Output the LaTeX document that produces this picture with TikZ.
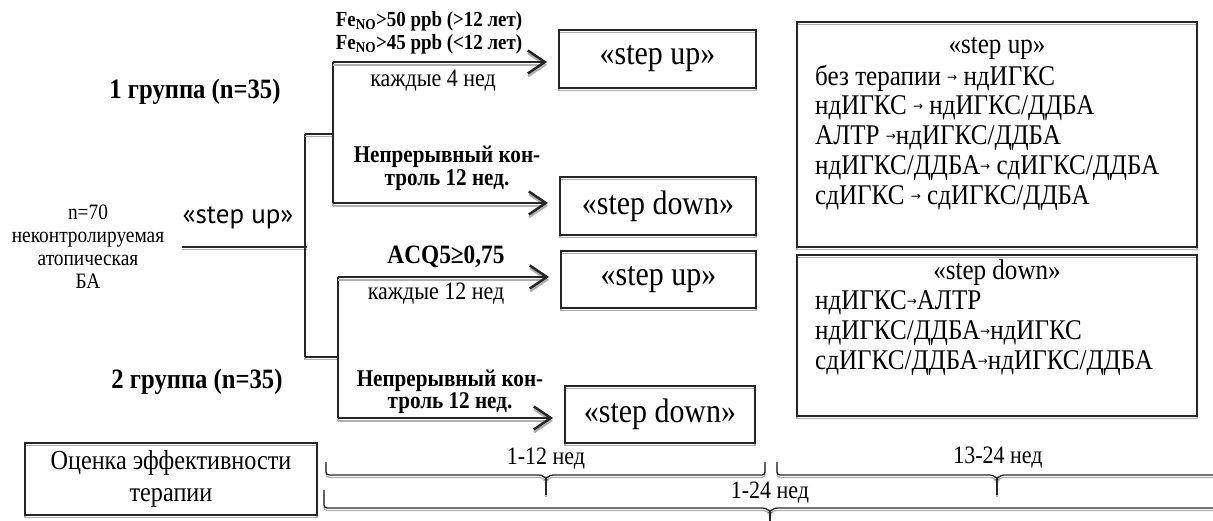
\documentclass[tikz,border=0pt]{standalone}
\usepackage{fontspec}
\setmainfont[FakeStretch=0.88]{Liberation Serif}
\newfontfamily\sansfam{PT Sans}
\newfontfamily\symfam{DejaVu Sans}
\usetikzlibrary{arrows.meta,calc}
\definecolor{ink}{HTML}{262626}
\definecolor{shade}{HTML}{B0B0B0}
\newcommand\fs[1]{\fontsize{#1}{#1}\selectfont}
\newcommand\fsl[2]{\fontsize{#1}{#2}\selectfont}
% small arrow used inside the therapy lists
\newcommand\sarr{\raisebox{0.3ex}{\symfam\fontsize{12}{12}\selectfont →}}
% time-span bracket: x1, x2, x of the tip, y of the ends, y of the bar, y of the tip
\newcommand\spanbrace[6]{%
  \draw[bracket] (#1,#4) -- (#1,#5) -- (#3-4,#5) -- (#3,#5+4) -- (#3+4,#5) -- (#2,#5) -- (#2,#4);
  \draw[bracket] (#3,#5+3) -- (#3,#6);}

\begin{document}
\begin{tikzpicture}[x=1pt,y=-1pt,
  shadowed/.style={preaction={draw=shade,line width=1.5pt,transform canvas={yshift=-2.6pt}}},
  wire/.style={draw=ink,line width=1.5pt,shadowed},
  flow/.style={draw=ink,line width=2.5pt,
    preaction={draw=shade,line width=2.2pt,transform canvas={yshift=-2.8pt},
      -{Straight Barb[length=17pt,width=23pt]},shorten >=11pt},
    -{Straight Barb[length=17pt,width=23pt]},shorten >=11pt},
  box/.style={draw=ink,line width=1.9pt,shadowed,inner sep=0pt,font=\fs{34}},
  panel/.style={draw=ink,line width=1.9pt,shadowed,inner sep=0pt},
  bracket/.style={draw=ink,line width=1.3pt,rounded corners=3pt,
    preaction={draw=shade,line width=1.3pt,rounded corners=3pt,transform canvas={yshift=-2.4pt}}},
  lbl/.style={inner sep=0pt,align=center},
  item/.style={inner sep=0pt,anchor=west,font=\fs{28.5}}]

\useasboundingbox (0,0) rectangle (1213,521);
\clip (0,0) rectangle (1213,521);

% ---- start of the algorithm
\node[lbl,font=\fsl{22}{23}] (pop) at (88,247)
  {n=70\\неконтролируемая\\атопическая\\БА};
\node[lbl,font=\sansfam\fs{27}] (start) at (238,218) {«step up»};

\node[lbl,font=\bfseries\fs{28}] (grp1) at (195,92) {1 группа (n=35)};
\node[lbl,font=\bfseries\fs{28}] (grp2) at (197,382) {2 группа (n=35)};

% ---- branching lines
\coordinate (j0) at (182,247);
\coordinate (j1) at (307,247);
\coordinate (jt) at (305,134);
\coordinate (jb) at (305,357);
\coordinate (g1) at (333,134);
\coordinate (g2) at (338,357);
\coordinate (a1) at (333,62);
\coordinate (a2) at (333,203);
\coordinate (b1) at (338,277);
\coordinate (b2) at (338,418);

\draw[wire] (j0) -- (j1);
\draw[wire] (jt) -- (jb);
\draw[wire] (jt) -- (g1);
\draw[wire] (jb) -- (g2);
\draw[wire] (a1) -- (a2);
\draw[wire] (b1) -- (b2);

% ---- outcome boxes
\node[box,minimum width=197pt,minimum height=58pt] (su1) at (657.5,59) {«step up»};
\node[box,minimum width=196pt,minimum height=58pt] (sd1) at (658,206) {«step down»};
\node[box,minimum width=195pt,minimum height=57pt] (su2) at (658.5,279.5) {«step up»};
\node[box,minimum width=190pt,minimum height=57pt] (sd2) at (660,414.5) {«step down»};

\draw[flow] (a1) -- (a1 -| su1.west);
\draw[flow] (a2) -- (a2 -| sd1.west);
\draw[flow] (b1) -- (b1 -| su2.west);
\draw[flow] (b2) -- (b2 -| sd2.west);

% ---- conditions on the arrows
\node[lbl,font=\bfseries\fs{21.5}] (fe1) at (429,21) {Fe\textsubscript{NO}>50 ppb (>12 лет)};
\node[lbl,font=\bfseries\fs{21.5}] (fe2) at (429,44) {Fe\textsubscript{NO}>45 ppb (<12 лет)};
\node[lbl,font=\fs{25}] (k4) at (433,81) {каждые 4 нед};
\node[lbl,font=\bfseries\fsl{24}{23}] (nk1) at (447,168)
  {Непрерывный кон-\\троль 12 нед.};
\node[lbl,font=\bfseries\fs{26.5}] (acq) at (446,257) {ACQ5≥0,75};
\node[lbl,font=\fs{25}] (k12) at (436,294) {каждые 12 нед};
\node[lbl,font=\bfseries\fsl{24}{22}] (nk2) at (450,392)
  {Непрерывный кон-\\троль 12 нед.};

% ---- therapy steps
\node[panel,minimum width=400pt,minimum height=225pt] (rb1) at (997,134.5) {};
\node[inner sep=0pt,font=\fs{28.5}] (rb1h) at (997,49) {«step up»};
\node[item] (rb1a) at (815,78)  {без терапии \sarr{} ндИГКС};
\node[item] (rb1b) at (815,108) {ндИГКС \sarr{} ндИГКС/ДДБА};
\node[item] (rb1c) at (815,138) {АЛТР \sarr{}ндИГКС/ДДБА};
\node[item] (rb1d) at (815,168) {ндИГКС/ДДБА\sarr{} сдИГКС/ДДБА};
\node[item] (rb1e) at (815,198) {сдИГКС \sarr{} сдИГКС/ДДБА};

\node[panel,minimum width=400pt,minimum height=161pt] (rb2) at (997,335.5) {};
\node[inner sep=0pt,font=\fs{28.5}] (rb2h) at (997,273) {«step down»};
\node[item] (rb2a) at (815,303) {ндИГКС\sarr{}АЛТР};
\node[item] (rb2b) at (815,333) {ндИГКС/ДДБА\sarr{}ндИГКС};
\node[item] (rb2c) at (815,363) {сдИГКС/ДДБА\sarr{}ндИГКС/ДДБА};

% ---- time scale
\node[panel,minimum width=292pt,minimum height=72pt,font=\fsl{27.5}{32}] (eval) at (171,479)
  {\begin{tabular}{@{}c@{}}Оценка эффективности\\терапии\end{tabular}};

\spanbrace{326}{765}{546}{462}{475}{495}
\spanbrace{777}{1217}{997}{462}{475}{495}
\spanbrace{324}{1216}{770}{490}{508}{530}

\node[lbl,font=\fs{25}] (t1) at (546,459) {1-12 нед};
\node[lbl,font=\fs{25}] (t2) at (998,458) {13-24 нед};
\node[lbl,font=\fs{25}] (t3) at (770,493) {1-24 нед};

\end{tikzpicture}
\end{document}
